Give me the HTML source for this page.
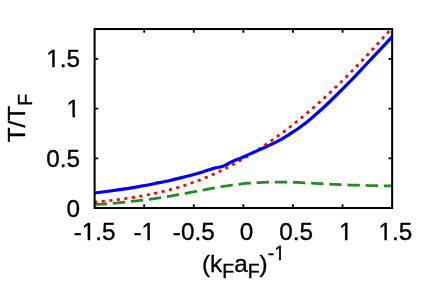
<!DOCTYPE html>
<html><head><meta charset="utf-8"><title>plot</title>
<style>
html,body{margin:0;padding:0;background:#fff;}
body{width:436px;height:305px;overflow:hidden;font-family:"Liberation Sans",sans-serif;}
svg{display:block;will-change:transform;}
text{font-family:"Liberation Sans",sans-serif;font-size:24.3px;fill:#000;stroke:#000;stroke-width:0.35px;}
</style></head><body>
<svg width="436" height="305" viewBox="0 0 436 305">
<defs><clipPath id="c"><rect x="94.6" y="28.45" width="298.34999999999997" height="179.54999999999998"/></clipPath></defs>
<g clip-path="url(#c)" fill="none" stroke-width="3">
<path d="M94.60 204.40 C95.77 204.36 99.27 204.26 101.60 204.14 C103.93 204.02 106.27 203.85 108.60 203.67 C110.93 203.49 113.27 203.28 115.60 203.06 C117.93 202.85 120.27 202.62 122.60 202.38 C124.93 202.14 127.27 201.90 129.60 201.64 C131.93 201.38 134.27 201.12 136.60 200.84 C138.93 200.57 141.27 200.28 143.60 199.99 C145.93 199.69 148.27 199.39 150.60 199.07 C152.93 198.75 155.27 198.41 157.60 198.07 C159.93 197.72 162.27 197.36 164.60 196.99 C166.93 196.62 169.27 196.23 171.60 195.83 C173.93 195.43 176.27 195.02 178.60 194.61 C180.93 194.19 183.27 193.76 185.60 193.32 C187.93 192.89 190.27 192.44 192.60 192.00 C194.93 191.56 197.27 191.11 199.60 190.67 C201.93 190.23 204.27 189.78 206.60 189.35 C208.93 188.91 211.27 188.48 213.60 188.07 C215.93 187.65 218.27 187.25 220.60 186.86 C222.93 186.47 225.27 186.10 227.60 185.75 C229.93 185.40 232.27 185.06 234.60 184.76 C236.93 184.45 239.27 184.16 241.60 183.90 C243.93 183.65 246.27 183.41 248.60 183.20 C250.93 183.00 253.27 182.82 255.60 182.67 C257.93 182.51 260.27 182.39 262.60 182.29 C264.93 182.19 267.27 182.12 269.60 182.07 C271.93 182.02 274.27 182.00 276.60 182.00 C278.93 182.00 281.27 182.02 283.60 182.06 C285.93 182.10 288.27 182.16 290.60 182.23 C292.93 182.30 295.27 182.39 297.60 182.49 C299.93 182.59 302.27 182.70 304.60 182.81 C306.93 182.93 309.27 183.05 311.60 183.18 C313.93 183.30 316.27 183.43 318.60 183.55 C320.93 183.68 323.27 183.81 325.60 183.93 C327.93 184.05 330.27 184.17 332.60 184.28 C334.93 184.39 337.27 184.50 339.60 184.60 C341.93 184.70 344.27 184.79 346.60 184.88 C348.93 184.97 351.27 185.05 353.60 185.12 C355.93 185.20 358.27 185.26 360.60 185.33 C362.93 185.39 365.27 185.45 367.60 185.50 C369.93 185.55 372.27 185.60 374.60 185.64 C376.93 185.68 379.27 185.72 381.60 185.75 C383.93 185.78 386.77 185.80 388.60 185.80 C390.43 185.81 391.93 185.80 392.60 185.80" stroke="#228b22" stroke-width="2.75" stroke-dasharray="12.4 5.78"/>
<path d="M94.60 202.02 C95.60 201.93 98.60 201.70 100.60 201.51 C102.60 201.32 104.60 201.11 106.60 200.89 C108.60 200.68 110.60 200.45 112.60 200.21 C114.60 199.97 116.60 199.73 118.60 199.47 C120.60 199.22 122.60 198.95 124.60 198.66 C126.60 198.38 128.60 198.09 130.60 197.78 C132.60 197.47 134.60 197.15 136.60 196.82 C138.60 196.49 140.60 196.14 142.60 195.78 C144.60 195.42 146.60 195.05 148.60 194.66 C150.60 194.26 152.60 193.84 154.60 193.40 C156.60 192.96 158.60 192.51 160.60 192.03 C162.60 191.56 164.60 191.07 166.60 190.55 C168.60 190.04 170.60 189.51 172.60 188.95 C174.60 188.40 176.60 187.82 178.60 187.22 C180.60 186.62 182.60 186.00 184.60 185.35 C186.60 184.71 188.60 184.04 190.60 183.34 C192.60 182.65 194.60 181.93 196.60 181.18 C198.60 180.43 200.60 179.66 202.60 178.86 C204.60 178.06 206.60 177.24 208.60 176.39 C210.60 175.53 212.60 174.65 214.60 173.75 C216.60 172.84 218.60 171.91 220.60 170.94 C222.60 169.98 224.60 168.99 226.60 167.98 C228.60 166.96 230.60 165.91 232.60 164.84 C234.60 163.77 236.60 162.67 238.60 161.54 C240.60 160.41 242.60 159.26 244.60 158.08 C246.60 156.90 248.60 155.69 250.60 154.45 C252.60 153.22 254.60 151.96 256.60 150.67 C258.60 149.38 260.60 148.07 262.60 146.73 C264.60 145.39 266.60 144.02 268.60 142.63 C270.60 141.25 272.60 139.85 274.60 138.42 C276.60 136.99 278.60 135.55 280.60 134.07 C282.60 132.60 284.60 131.10 286.60 129.57 C288.60 128.05 290.60 126.49 292.60 124.91 C294.60 123.33 296.60 121.72 298.60 120.08 C300.60 118.45 302.60 116.79 304.60 115.11 C306.60 113.43 308.60 111.73 310.60 110.00 C312.60 108.27 314.60 106.52 316.60 104.75 C318.60 102.98 320.60 101.18 322.60 99.36 C324.60 97.54 326.60 95.70 328.60 93.84 C330.60 91.97 332.60 90.09 334.60 88.18 C336.60 86.27 338.60 84.33 340.60 82.38 C342.60 80.43 344.60 78.45 346.60 76.45 C348.60 74.45 350.60 72.43 352.60 70.39 C354.60 68.35 356.60 66.29 358.60 64.21 C360.60 62.13 362.60 60.04 364.60 57.92 C366.60 55.80 368.60 53.64 370.60 51.49 C372.60 49.33 374.60 47.15 376.60 44.96 C378.60 42.78 380.60 40.57 382.60 38.37 C384.60 36.16 386.60 33.94 388.60 31.72 C390.60 29.51 392.60 27.29 394.60 25.08 C396.60 22.87 399.60 19.58 400.60 18.48" stroke="#ff0000" stroke-width="2.7" stroke-dasharray="3.1 4.47" stroke-dashoffset="0.35"/>
<path d="M94.60 193.00 C97.17 192.67 104.93 191.70 110.00 191.00 C115.07 190.30 120.00 189.58 125.00 188.80 C130.00 188.03 135.00 187.23 140.00 186.35 C145.00 185.47 150.00 184.49 155.00 183.50 C160.00 182.51 165.00 181.56 170.00 180.44 C175.00 179.32 181.17 177.75 185.00 176.80 C188.83 175.85 190.50 175.42 193.00 174.75 C195.50 174.08 197.85 173.46 200.00 172.80 C202.15 172.14 204.23 171.36 205.90 170.80 C207.57 170.24 208.70 169.86 210.00 169.45 C211.30 169.04 212.70 168.62 213.70 168.35 C214.70 168.07 214.95 168.03 216.00 167.80 C217.05 167.58 218.83 167.26 220.00 167.00 C221.17 166.74 222.00 166.60 223.00 166.25 C224.00 165.90 224.83 165.49 226.00 164.90 C227.17 164.31 228.67 163.40 230.00 162.70 C231.33 162.00 232.27 161.44 234.00 160.70 C235.73 159.95 238.18 159.16 240.40 158.23 C242.62 157.30 245.07 156.13 247.30 155.14 C249.53 154.15 251.58 153.26 253.80 152.28 C256.02 151.30 258.32 150.30 260.60 149.28 C262.88 148.26 265.20 147.21 267.50 146.14 C269.80 145.07 272.10 143.98 274.40 142.84 C276.70 141.70 279.00 140.59 281.30 139.30 C283.60 138.01 285.92 136.53 288.20 135.10 C290.48 133.67 293.03 132.02 295.00 130.70 C296.97 129.38 297.70 128.92 300.00 127.20 C302.30 125.48 305.05 123.51 308.80 120.40 C312.55 117.29 317.92 112.74 322.50 108.55 C327.08 104.36 330.88 100.61 336.30 95.25 C341.72 89.89 350.12 81.44 355.00 76.40 C359.88 71.36 361.53 69.33 365.60 65.00 C369.67 60.67 374.96 55.12 379.40 50.40 C383.84 45.68 390.11 38.98 392.25 36.70" stroke="#0000ff" stroke-width="3.2"/>
</g>
<g stroke="#000" stroke-width="1.8" fill="none"><path d="M144.19 208.00 v-3.70 M144.19 29.05 v3.70"/><path d="M193.78 208.00 v-3.70 M193.78 29.05 v3.70"/><path d="M243.37 208.00 v-3.70 M243.37 29.05 v3.70"/><path d="M292.97 208.00 v-3.70 M292.97 29.05 v3.70"/><path d="M342.56 208.00 v-3.70 M342.56 29.05 v3.70"/><path d="M94.60 158.29 h3.70 M392.15 158.29 h-3.70"/><path d="M94.60 108.58 h3.70 M392.15 108.58 h-3.70"/><path d="M94.60 58.88 h3.70 M392.15 58.88 h-3.70"/></g>
<rect x="94.6" y="29.05" width="297.54999999999995" height="178.95" fill="none" stroke="#000" stroke-width="2.05"/>
<g><text x="94.60" y="240.4" text-anchor="middle">-1.5</text><text x="144.19" y="240.4" text-anchor="middle">-1</text><text x="193.78" y="240.4" text-anchor="middle">-0.5</text><text x="246.57" y="240.4" text-anchor="middle">0</text><text x="296.17" y="240.4" text-anchor="middle">0.5</text><text x="345.76" y="240.4" text-anchor="middle">1</text><text x="395.35" y="240.4" text-anchor="middle">1.5</text><text x="80.1" y="216.50" text-anchor="end">0</text><text x="80.1" y="166.79" text-anchor="end">0.5</text><text x="80.1" y="117.08" text-anchor="end">1</text><text x="80.1" y="67.38" text-anchor="end">1.5</text></g>
<text transform="translate(25.3 142.3) rotate(-90)">T/T<tspan dy="7.1" font-size="19.5px">F</tspan></text>
<text x="202.0" y="271.6">(k<tspan dy="6.6" font-size="19.5px">F</tspan><tspan dy="-6.6">a</tspan><tspan dy="6.6" font-size="19.5px">F</tspan><tspan dy="-6.6">)</tspan><tspan dy="-11.7" font-size="19.5px">-1</tspan></text>
<g><rect x="81.94" y="237.73" width="5.71" height="4.37" fill="#fff"/><rect x="90.20" y="237.73" width="5.47" height="4.37" fill="#fff"/><rect x="141.66" y="237.73" width="5.71" height="4.37" fill="#fff"/><rect x="149.92" y="237.73" width="5.47" height="4.37" fill="#fff"/><rect x="339.20" y="237.73" width="5.71" height="4.37" fill="#fff"/><rect x="347.46" y="237.73" width="5.47" height="4.37" fill="#fff"/><rect x="378.66" y="237.73" width="5.71" height="4.37" fill="#fff"/><rect x="386.92" y="237.73" width="5.47" height="4.37" fill="#fff"/><rect x="66.79" y="114.41" width="5.71" height="4.37" fill="#fff"/><rect x="75.04" y="114.41" width="5.47" height="4.37" fill="#fff"/><rect x="46.52" y="64.71" width="5.71" height="4.37" fill="#fff"/><rect x="54.78" y="64.71" width="5.47" height="4.37" fill="#fff"/><rect x="274.02" y="257.59" width="4.87" height="4.01" fill="#fff"/><rect x="281.01" y="257.59" width="4.67" height="4.01" fill="#fff"/></g>
</svg>
</body></html>
